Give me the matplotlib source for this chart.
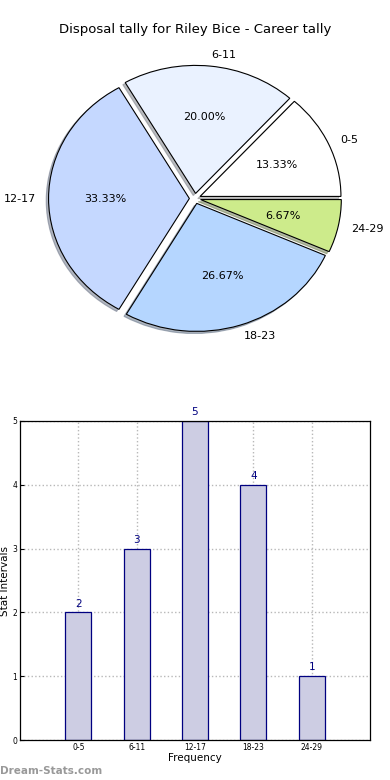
import matplotlib
matplotlib.use("Agg")
import matplotlib.pyplot as plt

categories = ["0-5", "6-11", "12-17", "18-23", "24-29"]
counts = [2, 3, 5, 4, 1]
pie_colors = ["#ffffff", "#eaf2ff", "#c5d8ff", "#b5d6ff", "#cdeb8b"]
title = "Disposal tally for Riley Bice - Career tally"

fig = plt.figure(figsize=(3.9, 7.8), dpi=100)

# Pie (slightly elliptical, as in the reference)
W = 352 / 390
H = 320 / 780
cx = 195 / 390
cy = 1 - 198.5 / 780
axp = fig.add_axes([cx - W / 2, cy - H / 2, W, H])
wedges, texts, autotexts = axp.pie(
    counts, labels=categories, colors=pie_colors, autopct="%1.2f%%",
    explode=[0.04] * len(counts),
    shadow=dict(ox=-0.012, oy=-0.012, shade=0.5),
    startangle=0, labeldistance=1.09,
    wedgeprops=dict(edgecolor="black", linewidth=0.8),
    textprops=dict(fontsize=8))
axp.set_aspect("auto")
axp.set_xlim(-1.25, 1.25)
axp.set_ylim(-1.25, 1.25)
fig.text(0.5, 1 - 30 / 780, title, ha="center", va="center", fontsize=9.5)

# Bar
axb = fig.add_axes([20 / 390, 1 - 740 / 780, 350 / 390, 319 / 780])
x = list(range(len(categories)))
axb.bar(x, counts, width=0.45, color="#cdcde3", edgecolor="#000080", linewidth=0.9, zorder=2)
for xi, c in zip(x, counts):
    axb.text(xi, c + 0.06, str(c), ha="center", va="bottom", color="#000080", fontsize=7.5)
axb.set_xlim(-1, 5)
axb.set_ylim(0, 5)
axb.set_xticks(x)
axb.set_xticklabels(categories, fontsize=5.5)
axb.set_yticks(range(6))
axb.set_yticklabels([str(i) for i in range(6)], fontsize=5.5)
axb.grid(True, linestyle=":", color="#b8b8b8", linewidth=1.0, zorder=3)
axb.tick_params(direction="in", length=3, pad=2)
axb.set_xlabel("Frequency", fontsize=7.5, labelpad=1)
axb.set_ylabel("Stat Intervals", fontsize=7.5, labelpad=2)
for s in axb.spines.values():
    s.set_linewidth(0.9)
fig.text(0.0, 1 - 771 / 780, "Dream-Stats.com", ha="left", va="center",
         fontsize=7.5, color="#999999", fontweight="bold")

fig.savefig("out.png", dpi=100)
